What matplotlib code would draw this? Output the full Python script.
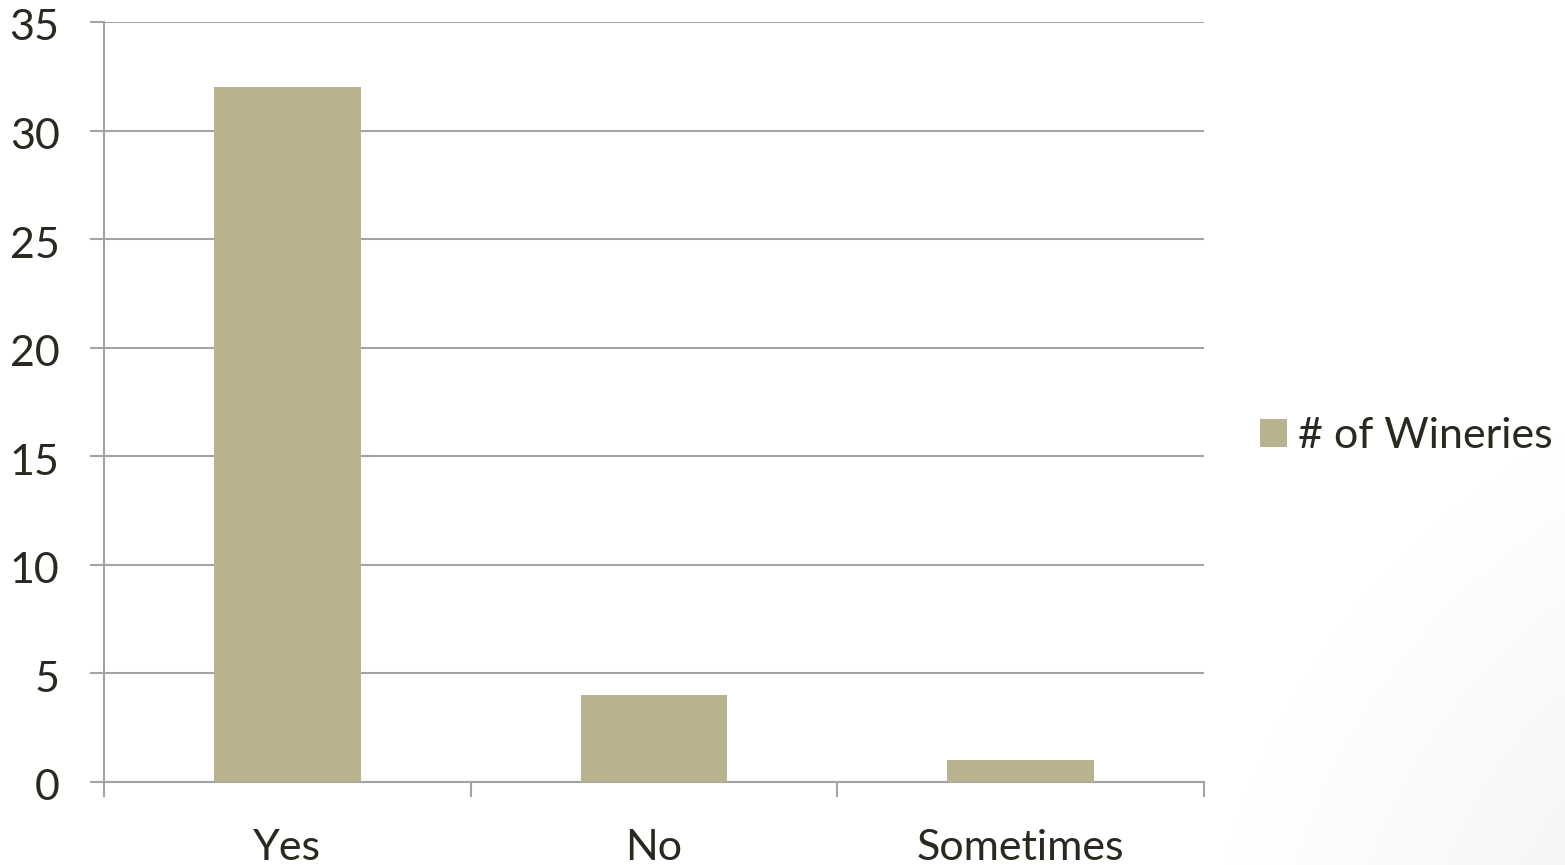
import numpy as np
import matplotlib
matplotlib.use("Agg")
import matplotlib.pyplot as plt
from matplotlib.patches import Patch
from matplotlib.transforms import ScaledTranslation

categories = ["Yes", "No", "Sometimes"]
wineries = [32, 4, 1]
y_ticks = [0, 5, 10, 15, 20, 25, 30, 35]

BAR = "#B8B28E"
GRID = "#A3A3A3"
TEXT = "#2B2820"
FS = 31

plt.rcParams["font.family"] = ["Lato", "DejaVu Sans"]

W, H = 1565, 865
fig = plt.figure(figsize=(W / 100, H / 100), dpi=100)

# faint grey shading in the lower-right corner of the slide background
bg = fig.add_axes([0, 0, 1, 1], zorder=-10)
yy, xx = np.mgrid[0:H, 0:W]
d = np.hypot(xx - 1900, yy - 1050)
shade = np.clip((700 - d) / 450, 0, 1) * 0.05
img = np.ones((H, W, 3)) - shade[..., None]
bg.imshow(img, extent=[0, W, H, 0], aspect="auto")
bg.axis("off")

ax = fig.add_axes([104 / W, 1 - 782 / H, 1100 / W, 760 / H])
ax.patch.set_alpha(0)
x = np.arange(len(categories))
ax.bar(x, wineries, width=0.4, color=BAR, zorder=3, label="# of Wineries")

ax.set_xlim(-0.5, len(categories) - 0.5)
ax.set_ylim(0, 35)
ax.set_yticks(y_ticks)
ax.set_yticklabels([str(v) for v in y_ticks], fontsize=FS, color=TEXT)
ax.yaxis.grid(True, color=GRID, linewidth=1.5, zorder=0)
ax.tick_params(axis="y", length=10, width=1.5, color=GRID, pad=22)
shift = ScaledTranslation(0, -3 / 100, fig.dpi_scale_trans)
for lbl in ax.get_yticklabels():
    lbl.set_transform(lbl.get_transform() + shift)

ax.set_xticks(np.arange(-0.5, len(categories), 1.0))
ax.set_xticklabels([])
ax.set_xticks(x, minor=True)
ax.set_xticklabels(categories, minor=True, fontsize=FS, color=TEXT)
ax.tick_params(axis="x", which="major", length=11, width=1.5, color=GRID, direction="out")
ax.tick_params(axis="x", which="minor", length=0, pad=34)

for side in ["top", "right"]:
    ax.spines[side].set_visible(False)
for side in ["left", "bottom"]:
    ax.spines[side].set_color(GRID)
    ax.spines[side].set_linewidth(1.5)

fig.legend(handles=[Patch(facecolor=BAR, label="# of Wineries")],
           loc="center left", bbox_to_anchor=(1260 / W, 1 - 436 / H),
           frameon=False, fontsize=FS, borderpad=0, borderaxespad=0,
           handlelength=0.63, handleheight=0.63,
           handletextpad=0.26, labelcolor=TEXT)

fig.savefig("out.png", dpi=100)
